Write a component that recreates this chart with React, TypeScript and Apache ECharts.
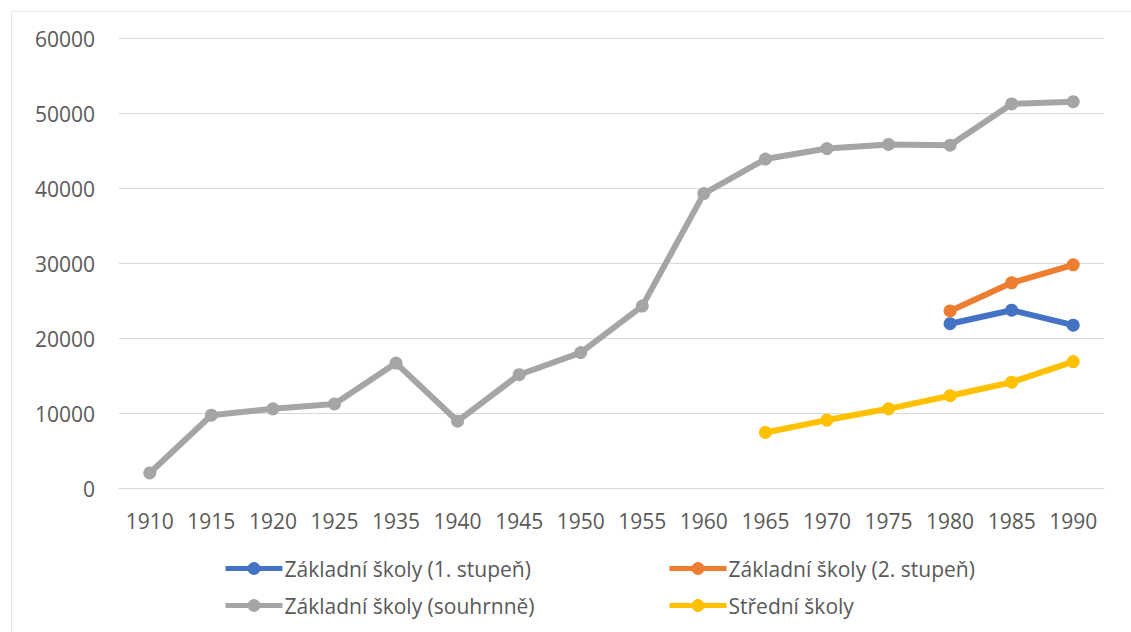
import React, { useEffect, useRef } from "react";
import * as echarts from "echarts";

const years = ["1910","1915","1920","1925","1935","1940","1945","1950","1955","1960","1965","1970","1975","1980","1985","1990"];
const zs1 = [null,null,null,null,null,null,null,null,null,null,null,null,null,22000,23800,21800];
const zs2 = [null,null,null,null,null,null,null,null,null,null,null,null,null,23700,27450,29850];
const zsTotal = [2100,9800,10650,11300,16750,9000,15200,18150,24350,39350,43950,45350,45900,45800,51300,51600];
const ss = [null,null,null,null,null,null,null,null,null,null,7500,9150,10650,12400,14200,16950];
const names = ["Základní školy (1. stupeň)","Základní školy (2. stupeň)","Základní školy (souhrnně)","Střední školy"];
const colors = ["#4472C4","#ED7D31","#A5A5A5","#FFC000"];

export default function App() {
  const ref = useRef<HTMLDivElement>(null);
  useEffect(() => {
    document.body.style.margin = "0";
    const chart = echarts.init(ref.current!, null, { renderer: "svg" });
    const font = "'Open Sans', 'Noto Sans', sans-serif";
    const mk = (i: number, data: any[]) => ({
      name: names[i],
      type: "line",
      data,
      symbol: "circle",
      symbolSize: 13,
      lineStyle: { width: 6, color: colors[i] },
      itemStyle: { color: colors[i] },
      connectNulls: false,
    });
    const legendPos = [
      { left: 223, top: 558 },
      { left: 667, top: 558 },
      { left: 223, top: 595 },
      { left: 667, top: 595 },
    ];
    chart.setOption({
      animation: false,
      backgroundColor: "#fff",
      textStyle: { fontFamily: font },
      graphic: [
        { type: "rect", shape: { x: 11.5, y: 11.5, width: 1140, height: 640 }, style: { fill: "none", stroke: "#e6e6e6", lineWidth: 1 } },
      ],
      grid: { left: 119, right: 27, top: 38.7, bottom: 143.3 },
      xAxis: {
        type: "category",
        data: years,
        boundaryGap: true,
        axisLine: { show: true, lineStyle: { color: "#d9d9d9", width: 1 } },
        axisTick: { show: false },
        axisLabel: { color: "#595959", fontSize: 21, fontFamily: font, margin: 22, interval: 0 },
      },
      yAxis: {
        type: "value",
        min: 0,
        max: 60000,
        interval: 10000,
        axisLine: { show: false },
        axisTick: { show: false },
        splitLine: { lineStyle: { color: "#d9d9d9", width: 1 } },
        axisLabel: { color: "#595959", fontSize: 21, fontFamily: font, margin: 24, formatter: (v: number) => String(v) },
      },
      legend: names.map((n, i) => ({
        data: [n],
        ...legendPos[i],
        padding: 0,
        itemWidth: 57,
        itemHeight: 16,
        itemGap: 0,
        lineStyle: { width: 5 },
        textStyle: { color: "#595959", fontSize: 21, fontFamily: font, padding: [0, 0, 0, -3] },
      })),
      series: [mk(0, zs1), mk(1, zs2), mk(2, zsTotal), mk(3, ss)],
    });
    return () => chart.dispose();
  }, []);
  return <div ref={ref} style={{ width: 1131, height: 632 }} />;
}
